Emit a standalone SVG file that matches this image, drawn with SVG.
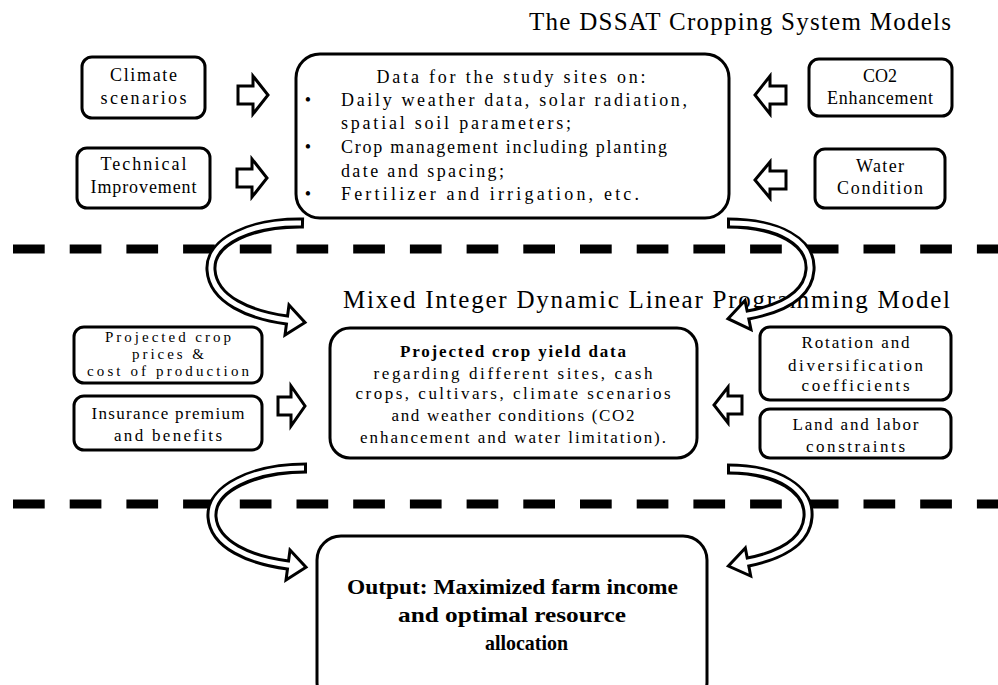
<svg xmlns="http://www.w3.org/2000/svg" width="998" height="685" viewBox="0 0 998 685">
<style>
  .box { fill: #fff; stroke: #000; stroke-width: 3; }
  .t { font-family: "Liberation Serif", "Noto Sans CJK SC", serif; font-size: 18px; fill: #000; }
  .m { font-family: "Liberation Serif", "Noto Sans CJK SC", serif; font-size: 17px; fill: #000; }
  .s { font-family: "Liberation Serif", "Noto Sans CJK SC", serif; font-size: 15px; fill: #000; }
  .c { text-anchor: middle; }
  .title { font-family: "Liberation Serif", "Noto Sans CJK SC", serif; font-size: 25px; fill: #000; }
  .out { font-family: "Liberation Serif", "Noto Sans CJK SC", serif; font-size: 21px; font-weight: bold; fill: #000; text-anchor: middle; }
  .blk { fill: #fff; stroke: #000; stroke-width: 3; stroke-linejoin: miter; }
  .dash { stroke: #000; stroke-width: 9; stroke-dasharray: 31.7 25; fill: none; }
  .bandO { fill: none; stroke: #000; stroke-width: 11; stroke-linecap: butt; }
  .bandI { fill: none; stroke: #fff; stroke-width: 5; stroke-linecap: butt; }
  .head { fill: #fff; stroke: #000; stroke-width: 3; stroke-linejoin: miter; }
</style>
<rect width="998" height="685" fill="#fff"/>

<g id="separators">
  <line class="dash" x1="13" y1="249" x2="998" y2="249"/>
  <line class="dash" x1="13" y1="504" x2="998" y2="504"/>
</g>

<text class="title" x="529" y="30" textLength="422">The DSSAT Cropping System Models</text>
<text class="title" x="343" y="308" textLength="607">Mixed Integer Dynamic Linear Programming Model</text>

<g id="climate">
  <rect class="box" x="82" y="57" width="123" height="61" rx="10"/>
  <text class="t c" x="143.5" y="81" textLength="67">Climate</text>
  <text class="t c" x="143.5" y="104" textLength="86">scenarios</text>
</g>
<g id="technical">
  <rect class="box" x="77" y="148" width="133" height="60" rx="10"/>
  <text class="t c" x="143.5" y="170" textLength="86">Technical</text>
  <text class="t c" x="143.5" y="193" textLength="106">Improvement</text>
</g>
<g id="co2">
  <rect class="box" x="809" y="59" width="143" height="57" rx="10"/>
  <text class="t c" x="880" y="82">CO2</text>
  <text class="t c" x="880" y="104" textLength="106">Enhancement</text>
</g>
<g id="water">
  <rect class="box" x="815" y="149" width="130" height="59" rx="10"/>
  <text class="t c" x="880" y="172" textLength="48">Water</text>
  <text class="t c" x="880" y="194" textLength="86">Condition</text>
</g>
<g id="data">
  <rect class="box" x="296" y="54" width="433" height="164" rx="24"/>
  <text class="t c" x="511" y="83" textLength="269">Data for the study sites on:</text>
  <text class="t c" x="308" y="106">•</text>
  <text class="t" x="341" y="106" textLength="346">Daily weather data, solar radiation,</text>
  <text class="t" x="341" y="129" textLength="230">spatial soil parameters;</text>
  <text class="t c" x="308" y="153">•</text>
  <text class="t" x="341" y="153" textLength="326">Crop management including planting</text>
  <text class="t" x="341" y="177" textLength="163">date and spacing;</text>
  <text class="t c" x="308" y="200">•</text>
  <text class="t" x="341" y="200" textLength="298">Fertilizer and irrigation, etc.</text>
</g>

<g id="prices">
  <rect class="box" x="74" y="327" width="188" height="56" rx="10"/>
  <text class="s c" x="168" y="342" textLength="126">Projected crop</text>
  <text class="s c" x="168" y="359" textLength="72">prices &amp;</text>
  <text class="s c" x="168" y="376" textLength="162">cost of production</text>
</g>
<g id="insurance">
  <rect class="box" x="74" y="396" width="188" height="54" rx="10"/>
  <text class="m c" x="168" y="419" textLength="153">Insurance premium</text>
  <text class="m c" x="168" y="441" textLength="108">and benefits</text>
</g>
<g id="yield">
  <rect class="box" x="330" y="328" width="367" height="130" rx="20"/>
  <text class="m c" x="513" y="357" font-weight="bold" textLength="226">Projected crop yield data</text>
  <text class="m c" x="513" y="379" textLength="279">regarding different sites, cash</text>
  <text class="m c" x="513" y="399" textLength="315">crops, cultivars, climate scenarios</text>
  <text class="m c" x="513" y="421" textLength="243">and weather conditions (CO2</text>
  <text class="m c" x="513" y="443" textLength="306">enhancement and water limitation).</text>
</g>
<g id="rotation">
  <rect class="box" x="760" y="327" width="191" height="73" rx="10"/>
  <text class="m c" x="855.5" y="348" textLength="108">Rotation and</text>
  <text class="m c" x="855.5" y="371" textLength="135">diversification</text>
  <text class="m c" x="855.5" y="391" textLength="108">coefficients</text>
</g>
<g id="land">
  <rect class="box" x="760" y="409" width="191" height="49" rx="10"/>
  <text class="m c" x="855.5" y="430" textLength="126">Land and labor</text>
  <text class="m c" x="855.5" y="452" textLength="99">constraints</text>
</g>

<g id="output">
  <rect class="box" x="317" y="536" width="390" height="170" rx="24"/>
  <text class="out" x="512.5" y="594" textLength="331" lengthAdjust="spacingAndGlyphs">Output: Maximized farm income</text>
  <text class="out" x="512" y="622" textLength="228" lengthAdjust="spacingAndGlyphs">and optimal resource</text>
  <text class="out" x="526.5" y="650" textLength="83" lengthAdjust="spacingAndGlyphs">allocation</text>
</g>

<g id="connectors">
  <path class="blk" d="M238,86 H253 V76 L268,95 L253,114 V104 H238 Z"/>
  <path class="blk" d="M237,169 H252 V159 L267,178 L252,197 V187 H237 Z"/>
  <path class="blk" d="M786,86 H770 V76 L755,95 L770,114 V104 H786 Z"/>
  <path class="blk" d="M786,171 H770 V162 L755,180 L770,198 V189 H786 Z"/>
  <path class="blk" d="M278,397 H291 V386 L305,406 L291,426 V415 H278 Z"/>
  <path class="blk" d="M742,396 H728 V387 L714,405 L728,423 V414 H742 Z"/>

  <path class="bandO" d="M304,223 C255,222 209,240 211,270 C213,300 250,315 287,320"/>
  <polygon class="head" points="289,305 305,322.5 285,335"/>
  <path class="bandI" d="M301,223 C253,222 209,240 211,270 C213,300 250,315 287,320 l6,1"/>

  <path class="bandO" d="M727,223 C778,223 812,242 810,270 C808,297 780,309 748,315"/>
  <polygon class="head" points="745,300.5 728,318.7 751,329.7"/>
  <path class="bandI" d="M730,223 C780,223 812,242 810,270 C808,297 780,309 748,315 l-6,1.1"/>

  <path class="bandO" d="M307,468 C255,468 210,488 212,517 C214,545 250,560 288,565"/>
  <polygon class="head" points="290,550 306,567.3 286,580"/>
  <path class="bandI" d="M304,468 C253,468 210,488 212,517 C214,545 250,560 288,565 l6,0.8"/>

  <path class="bandO" d="M727,469 C778,469 810,490 808,517 C806,543 778,556 748,562"/>
  <polygon class="head" points="745.3,548 728.4,566 750.7,576"/>
  <path class="bandI" d="M730,469 C780,469 810,490 808,517 C806,543 778,556 748,562 l-6,1.2"/>
</g>
</svg>
